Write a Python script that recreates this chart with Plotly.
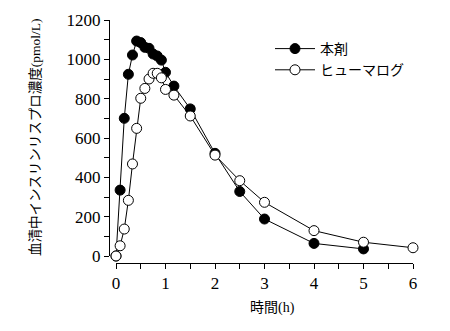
import plotly.graph_objects as go

# Serum insulin lispro concentration (pmol/L) over time (h)
t_test = [0, 0.083, 0.167, 0.25, 0.333, 0.417, 0.5, 0.583, 0.667, 0.75, 0.833, 0.917, 1.0, 1.17, 1.5, 2, 2.5, 3, 4, 5]
c_test = [0, 335, 700, 924, 1022, 1093, 1085, 1061, 1056, 1027, 1017, 996, 934, 864, 748, 522, 328, 188, 64, 36]

t_ref = [0, 0.083, 0.167, 0.25, 0.333, 0.417, 0.5, 0.583, 0.667, 0.75, 0.833, 0.917, 1.0, 1.17, 1.5, 2, 2.5, 3, 4, 5, 6]
c_ref = [0, 52, 137, 283, 468, 649, 802, 852, 900, 929, 929, 906, 847, 818, 712, 513, 383, 273, 129, 70, 42]

name_test = "本剤"
name_ref = "ヒューマログ"

x_ticks = [0, 1, 2, 3, 4, 5, 6]
y_ticks = [0, 200, 400, 600, 800, 1000, 1200]

W, H = 450, 331
SERIF = "Liberation Serif, serif"
CJK = "Liberation Serif, Noto Sans CJK JP, sans-serif"

fig = go.Figure()
fig.add_trace(go.Scatter(
    x=t_test, y=c_test, name=name_test, mode="lines+markers", legendgroup="a",
    line=dict(color="black", width=1),
    marker=dict(symbol="circle", size=10, color="black", line=dict(color="black", width=1)),
    cliponaxis=False,
))
fig.add_trace(go.Scatter(
    x=t_ref, y=c_ref, name=name_ref, mode="lines+markers", legendgroup="b",
    line=dict(color="black", width=1),
    marker=dict(symbol="circle", size=10, color="white", line=dict(color="black", width=1)),
    cliponaxis=False,
))

# plot area in pixels: x 0..6 -> 116..413, y 0..1200 -> 256..20
x0, x1 = 116, 413
y0, y1 = 256, 20
yaxis_px = 109
xaxis_px = 263

fig.update_layout(
    width=W, height=H,
    margin=dict(l=0, r=0, t=0, b=0, pad=0, autoexpand=False),
    paper_bgcolor="white", plot_bgcolor="white",
    showlegend=True,
    legend=dict(
        x=270 / W, y=1 - 33 / H, xanchor="left", yanchor="top",
        bgcolor="rgba(0,0,0,0)", font=dict(family=CJK, size=14, color="black"),
        tracegroupgap=0, itemwidth=40,
    ),
    xaxis=dict(
        domain=[x0 / W, x1 / W], range=[0, 6],
        anchor="free", position=1 - xaxis_px / H,
        showgrid=False, zeroline=False,
        showline=True, linecolor="black", linewidth=1,
        ticks="outside", ticklen=5, tickcolor="black", tickwidth=1,
        tickvals=x_ticks, ticktext=[str(v) for v in x_ticks],
        minor=dict(dtick=0.5, ticks="outside", ticklen=5, tickcolor="black", tickwidth=1),
        tickfont=dict(family=SERIF, size=17, color="black"),
    ),
    yaxis=dict(
        domain=[1 - y0 / H, 1 - y1 / H], range=[0, 1200],
        anchor="free", position=yaxis_px / W,
        showgrid=False, zeroline=False,
        showline=True, linecolor="black", linewidth=1,
        ticks="outside", ticklen=5, tickcolor="black", tickwidth=1,
        tickvals=y_ticks, ticktext=[str(v) for v in y_ticks],
        minor=dict(dtick=100, ticks="outside", ticklen=5, tickcolor="black", tickwidth=1),
        tickfont=dict(family=SERIF, size=17, color="black"),
    ),
    annotations=[
        dict(text="時間(h)", x=272 / W, y=1 - 308 / H, xref="paper", yref="paper",
             xanchor="center", yanchor="middle", showarrow=False,
             font=dict(family=CJK, size=14, color="black")),
        dict(text="血清中インスリンリスプロ濃度(pmol/L)", x=35 / W, y=1 - 138 / H,
             xref="paper", yref="paper", xanchor="center", yanchor="middle",
             textangle=-90, showarrow=False,
             font=dict(family=CJK, size=13.5, color="black")),
    ],
)

fig.write_html("out.html")
